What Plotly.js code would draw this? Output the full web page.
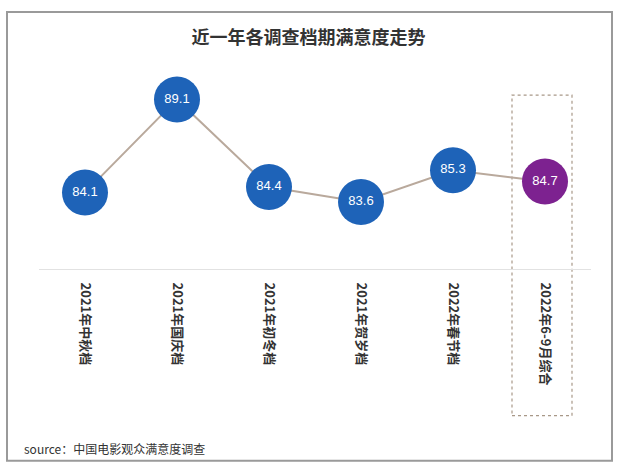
<!DOCTYPE html>
<html>
<head>
<meta charset="utf-8">
<script src="https://cdn.plot.ly/plotly-3.0.1.min.js"></script>
<style>html,body{margin:0;padding:0;background:#fff;}#chart{width:617px;height:466px;}</style>
</head>
<body>
<div id="chart"></div>
<script>
var categories = ["2021年中秋档", "2021年国庆档", "2021年初冬档", "2021年贺岁档", "2022年春节档", "2022年6-9月综合"];
var scores = [84.1, 89.1, 84.4, 83.6, 85.3, 84.7];
var markerColors = ["#1e63b8", "#1e63b8", "#1e63b8", "#1e63b8", "#1e63b8", "#7d2290"];
var titleText = "近一年各调查档期满意度走势";
var sourceText = "source：中国电影观众满意度调查";

var trace = {
  x: categories,
  y: scores,
  type: "scatter",
  mode: "lines+markers+text",
  line: {color: "#b9a99c", width: 2},
  marker: {size: 46, color: markerColors, line: {width: 0}},
  text: scores.map(function(v){ return v.toFixed(1); }),
  textposition: "middle center",
  textfont: {color: "#ffffff", size: 13, family: "Liberation Sans, Arial, sans-serif"},
  hoverinfo: "x+y",
  cliponaxis: false
};

var layout = {
  width: 617,
  height: 466,
  paper_bgcolor: "#ffffff",
  plot_bgcolor: "#ffffff",
  margin: {l: 39, r: 26, t: 64, b: 197.4},
  showlegend: false,
  font: {family: "Noto Sans CJK SC, sans-serif", color: "#333"},
  title: {
    text: "<b>" + titleText + "</b>",
    font: {size: 18, color: "#333", family: "Noto Sans CJK SC, sans-serif"},
    x: 0.5, xanchor: "center",
    yref: "container", y: 1 - 38/466, yanchor: "middle"
  },
  xaxis: {
    type: "category",
    range: [-0.5, 5.5],
    showgrid: false,
    zeroline: false,
    showline: true,
    linecolor: "#e2e2e2",
    linewidth: 1,
    ticks: "",
    tickangle: 90,
    ticklabelstandoff: 10,
    tickfont: {size: 13, color: "#333", weight: 600, family: "Noto Sans CJK SC, sans-serif"},
    fixedrange: true
  },
  yaxis: {
    range: [80, 91],
    visible: false,
    showgrid: false,
    zeroline: false,
    fixedrange: true
  },
  shapes: [
    {
      type: "rect", xref: "paper", yref: "paper",
      x0: (512-39)/552, x1: (572-39)/552,
      y0: (268.6-415)/204.6, y1: (268.6-95)/204.6,
      line: {color: "#a89888", width: 1.2, dash: "dot"},
      fillcolor: "rgba(0,0,0,0)",
      layer: "below"
    },
    {
      type: "rect", xref: "paper", yref: "paper",
      x0: (7-39)/552, x1: (612-39)/552,
      y0: (268.6-460)/204.6, y1: (268.6-12)/204.6,
      line: {color: "#9a9a9a", width: 2},
      fillcolor: "rgba(0,0,0,0)",
      layer: "below"
    }
  ],
  annotations: [
    {
      text: sourceText,
      xref: "paper", yref: "paper",
      x: (22-39)/552, y: (268.6-448)/204.6,
      xanchor: "left", yanchor: "middle",
      showarrow: false,
      font: {size: 12, color: "#333", family: "Noto Sans CJK SC, sans-serif"}
    }
  ]
};

Plotly.newPlot("chart", [trace], layout, {displayModeBar: false, staticPlot: true});
</script>
</body>
</html>
